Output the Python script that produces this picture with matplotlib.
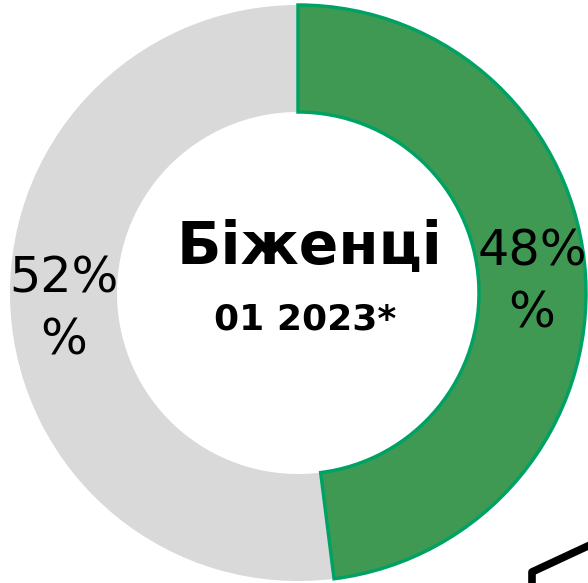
import matplotlib
matplotlib.use("Agg")
import matplotlib.pyplot as plt
from matplotlib.lines import Line2D
import numpy as np

categories = ["Група 1", "Група 2"]
values = [48, 52]
labels = ["48%\n%", "52%\n%"]
colors = ["#3f9952", "#d9d9d9"]
title = "Біженці"
subtitle = "01 2023*"

W, H = 588, 583
fig = plt.figure(figsize=(W / 100, H / 100), dpi=100)
ax = fig.add_axes([0, 0, 1, 1])

cx, cy = 298, H - 293
R = 288
width = 107

wedges, _ = ax.pie(values, colors=colors, startangle=90, counterclock=False,
                   radius=R, center=(cx, cy), frame=True,
                   wedgeprops=dict(width=width, linewidth=0))
ax.set_xlim(0, W)
ax.set_ylim(0, H)
ax.set_aspect("auto")
ax.axis("off")
wedges[0].set_edgecolor("#00a264")
wedges[0].set_linewidth(2.5)
wedges[0].set_zorder(3)


def ftext(px, py, s, **kw):
    # px, py: pixel position from top-left corner
    fig.text(px / W, 1 - py / H, s, **kw)


total = sum(values)
start = 90.0
rmid = R - width / 2
offsets = [(0, 4), (0, 2)]
for v, lab, off in zip(values, labels, offsets):
    ang = start - v / total * 360 / 2
    start -= v / total * 360
    px = cx + rmid * np.cos(np.radians(ang)) + off[0]
    py = (H - cy) - rmid * np.sin(np.radians(ang)) + off[1]
    ftext(px, py, lab, ha="center", va="center", fontsize=35.5,
          family="DejaVu Sans", linespacing=1.36, zorder=5)

ftext(310, 248, title, ha="center", va="center", fontsize=42,
      fontweight="bold", family="DejaVu Sans", zorder=5)
ftext(305, 320, subtitle, ha="center", va="center", fontsize=26,
      fontweight="bold", family="DejaVu Sans", zorder=5)

# partial black shape at bottom-right corner
fig.add_artist(Line2D([532 / W, 532 / W, 590 / W], [0, (H - 572) / H, (H - 545) / H],
                      transform=fig.transFigure, color="black", linewidth=5.5,
                      solid_joinstyle="round"))

fig.savefig("out.png", dpi=100)
